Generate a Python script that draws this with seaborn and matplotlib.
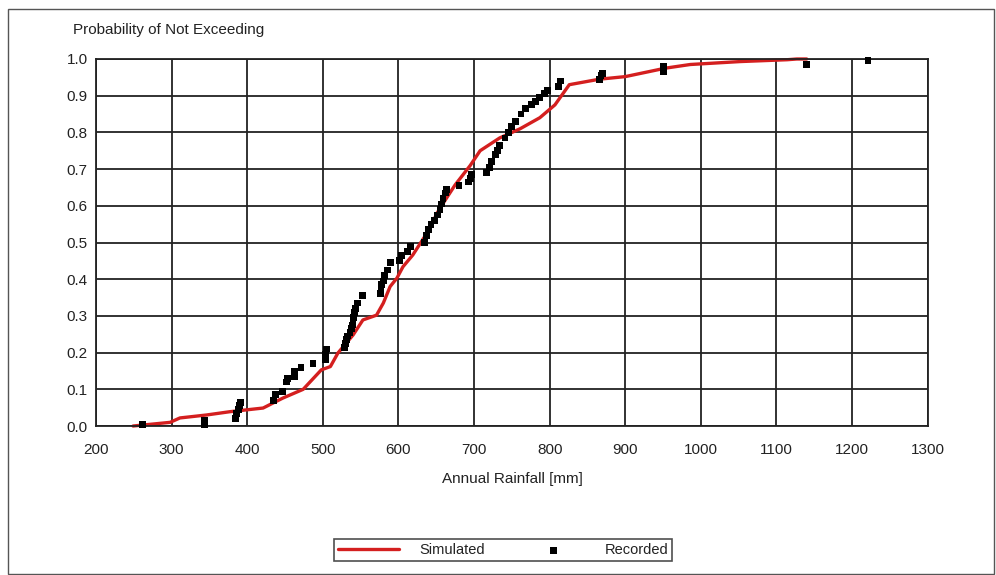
import matplotlib
matplotlib.use("Agg")
import matplotlib.pyplot as plt
from matplotlib.patches import Rectangle
from matplotlib.ticker import AutoMinorLocator
import seaborn as sns

# Simulated distribution curve (annual rainfall mm, probability of not exceeding)
sim_mm = [249, 298, 311, 346, 377, 421, 447, 474, 498, 510, 520, 540, 553, 571,
          580, 589, 598, 606, 619, 629, 642, 651, 662, 675, 695, 708, 734, 761,
          787, 807, 826, 866, 900, 930, 953, 986, 1052, 1114, 1127, 1140]
sim_p = [0.0, 0.01, 0.022, 0.03, 0.039, 0.049, 0.076, 0.10, 0.153, 0.162, 0.199,
         0.248, 0.289, 0.302, 0.335, 0.38, 0.403, 0.434, 0.466, 0.498, 0.539,
         0.58, 0.616, 0.657, 0.71, 0.75, 0.785, 0.81, 0.84, 0.875, 0.93, 0.945,
         0.952, 0.965, 0.975, 0.985, 0.993, 0.998, 1.0, 1.0]

# Recorded values
rec_mm = [262, 343, 343, 384, 386, 388, 390, 391, 435, 437, 447, 452, 453, 462,
          463, 471, 487, 503, 504, 505, 529, 530, 531, 533, 536, 538, 539, 540,
          541, 542, 543, 546, 552, 576, 577, 578, 580, 582, 586, 589, 601, 604,
          612, 616, 635, 637, 640, 643, 648, 652, 655, 657, 659, 662, 664, 680,
          693, 695, 697, 716, 720, 723, 728, 731, 734, 741, 746, 750, 755, 762,
          768, 776, 781, 787, 793, 797, 812, 814, 866, 868, 870, 951, 951, 1140,
          1221]
rec_p = [0.005, 0.005, 0.015, 0.02, 0.035, 0.045, 0.055, 0.065, 0.07, 0.085,
         0.095, 0.12, 0.13, 0.135, 0.15, 0.16, 0.17, 0.18, 0.195, 0.21, 0.215,
         0.225, 0.235, 0.245, 0.255, 0.265, 0.275, 0.285, 0.295, 0.31, 0.32,
         0.335, 0.355, 0.36, 0.375, 0.385, 0.395, 0.41, 0.425, 0.445, 0.45,
         0.465, 0.475, 0.49, 0.5, 0.52, 0.535, 0.55, 0.56, 0.575, 0.59, 0.605,
         0.62, 0.635, 0.645, 0.655, 0.665, 0.675, 0.685, 0.69, 0.705, 0.72,
         0.74, 0.75, 0.765, 0.785, 0.8, 0.815, 0.83, 0.85, 0.865, 0.875, 0.885,
         0.895, 0.905, 0.915, 0.925, 0.94, 0.945, 0.955, 0.96, 0.965, 0.98,
         0.985, 0.995]

x_ticks = list(range(200, 1301, 100))
y_ticks = [i / 10 for i in range(11)]

sns.set_style("white")
plt.rcParams["font.family"] = ["Liberation Sans", "DejaVu Sans"]
txt = "#222222"

fig = plt.figure(figsize=(9.96, 5.75), dpi=100)
ax = fig.add_axes([0.0964, 0.2591, 0.8350, 0.6383])

sns.lineplot(x=sim_mm, y=sim_p, sort=False, color="#d41f1f", lw=2.4, ax=ax,
             label="Simulated", legend=False, zorder=2, clip_on=False)
sns.scatterplot(x=rec_mm, y=rec_p, marker="s", color="black", s=24,
                edgecolor="none", ax=ax, label="Recorded", legend=False,
                zorder=3, clip_on=False)

ax.set_xlim(200, 1300)
ax.set_ylim(0, 1)
ax.set_xticks(x_ticks)
ax.set_yticks(y_ticks)
ax.set_yticklabels([f"{v:.1f}" for v in y_ticks])
ax.xaxis.set_minor_locator(AutoMinorLocator(2))
ax.yaxis.set_minor_locator(AutoMinorLocator(2))
ax.tick_params(which="major", direction="out", length=3, width=1.2,
               color="#222", labelsize=11, labelcolor=txt)
ax.tick_params(axis="x", which="major", pad=9)
ax.tick_params(axis="y", which="major", pad=3)
ax.tick_params(which="minor", direction="inout", length=7, width=1.2,
               color="#222")
ax.grid(True, which="major", color="#222", lw=1.3)
for sp in ax.spines.values():
    sp.set_color("#222")
    sp.set_linewidth(1.3)
ax.set_xlabel("")
ax.set_ylabel("")

fig.text(73 / 996, 1 - 30 / 575, "Probability of Not Exceeding",
         va="center", ha="left", fontsize=11, color=txt)
fig.text(512 / 996, 1 - 479 / 575, "Annual Rainfall [mm]",
         va="center", ha="center", fontsize=11, color=txt)

handles, labels = ax.get_legend_handles_labels()
leg = fig.legend(handles, labels, loc="center", ncol=2,
                 bbox_to_anchor=(503 / 996, 1 - 550 / 575), fontsize=10.5,
                 frameon=True, fancybox=False, edgecolor="#222",
                 handlelength=4.2, handletextpad=1.4, columnspacing=2.6,
                 borderpad=0.25, markerscale=1.0)
leg.get_frame().set_linewidth(1.2)
for t in leg.get_texts():
    t.set_color(txt)

fig.patches.append(Rectangle((8 / 996, 1 / 575), 986 / 996, 565 / 575,
                             transform=fig.transFigure, fill=False,
                             edgecolor="#555", lw=1.0))

fig.savefig("out.png", dpi=100, facecolor="white")
